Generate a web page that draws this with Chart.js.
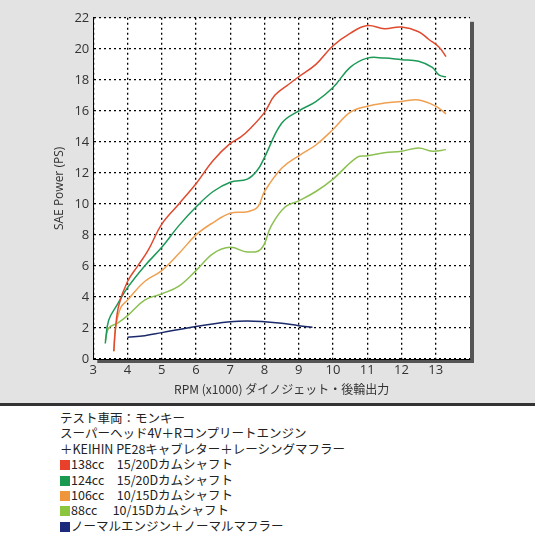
<!DOCTYPE html>
<html><head><meta charset="utf-8">
<script src="https://cdn.jsdelivr.net/npm/chart.js@4/dist/chart.umd.min.js"></script>
<style>
body{margin:0;width:535px;height:535px;overflow:hidden;background:#fff;font-family:"Open Sans","Noto Sans CJK JP",sans-serif}
#top{position:relative;width:535px;height:403px;background:#e3e3e3;border-bottom:3px solid #333}
#wrap{position:absolute;left:48px;top:6px;width:437px;height:391px}
#leg{padding:4px 0 0 60px;font-size:12.5px;line-height:15.4px;color:#222;font-family:"Noto Sans CJK JP",sans-serif}
.sw{display:inline-block;width:10px;height:10px;margin-right:1px;vertical-align:-1px}
</style></head><body>
<div id="top"><div id="wrap"><canvas id="c"></canvas></div></div>
<div id="leg">
<div>テスト車両：モンキー</div>
<div>スーパーヘッド4V＋Rコンプリートエンジン</div>
<div>＋KEIHIN PE28キャブレター＋レーシングマフラー</div>
<div><span class="sw" style="background:#e8402a"></span>138cc　15/20Dカムシャフト</div>
<div><span class="sw" style="background:#1a9a50"></span>124cc　15/20Dカムシャフト</div>
<div><span class="sw" style="background:#f0963a"></span>106cc　10/15Dカムシャフト</div>
<div><span class="sw" style="background:#8cc63f"></span>88cc　 10/15Dカムシャフト</div>
<div><span class="sw" style="background:#1b2a7a"></span>ノーマルエンジン＋ノーマルマフラー</div>
</div>
<script>
const red138=[[3.6,0.5],[3.65,2],[3.75,3.5],[4,5],[4.3,6],[4.6,7],[5,8.7],[5.5,10],[6,11.3],[6.5,12.8],[7,13.9],[7.3,14.3],[7.6,14.9],[8,15.9],[8.3,17],[8.7,17.7],[9,18.2],[9.5,19],[10,20.2],[10.5,21],[11,21.5],[11.5,21.3],[12,21.4],[12.5,21.1],[12.8,20.6],[13.1,20.1],[13.3,19.5]];
const green124=[[3.35,1],[3.45,2.5],[3.7,3.5],[4,4.6],[4.5,6],[5,7.2],[5.5,8.6],[6,9.8],[6.5,10.8],[7,11.4],[7.5,11.6],[7.8,12.2],[8,13],[8.5,15.2],[9,16],[9.5,16.6],[10,17.5],[10.5,18.8],[11,19.4],[11.5,19.4],[12,19.3],[12.5,19.2],[12.9,18.8],[13.1,18.3],[13.3,18.2]];
const orange106=[[3.6,0.5],[3.65,2],[3.8,3.3],[4,3.8],[4.5,5],[5,5.7],[5.5,6.8],[6,8],[6.5,8.8],[7,9.4],[7.5,9.5],[7.8,9.8],[8,10.8],[8.5,12.3],[9,13.1],[9.5,13.8],[10,14.8],[10.5,15.9],[11,16.3],[11.5,16.5],[12,16.6],[12.5,16.7],[13,16.3],[13.3,15.8]];
const lime88=[[3.35,1.2],[3.45,2],[3.7,2.3],[4,2.8],[4.5,3.8],[5,4.2],[5.5,4.7],[6,5.7],[6.5,6.8],[7,7.2],[7.5,6.9],[7.9,7.1],[8.2,8.6],[8.6,9.8],[9,10.2],[9.5,10.8],[10,11.6],[10.7,13],[11,13.1],[11.5,13.3],[12,13.4],[12.5,13.6],[12.9,13.4],[13.3,13.5]];
const normal=[[4,1.4],[4.5,1.5],[5,1.7],[6,2.1],[7,2.4],[7.5,2.45],[8,2.4],[8.5,2.3],[9,2.15],[9.4,2.05]];
const xTicks=[3,4,5,6,7,8,9,10,11,12,13];
const yTicks=[0,2,4,6,8,10,12,14,16,18,20,22];
const names=['138cc','124cc','106cc','88cc','ノーマル'];
const colors=['#e04a2e','#1e9a58','#f0a050','#8cc050','#1b2a6a'];
const series=[red138,green124,orange106,lime88,normal];
const bg={id:'bg',beforeDraw(ch){const a=ch.chartArea,c=ch.ctx;c.save();
c.fillStyle='#555';c.fillRect(a.left+4,a.top+4,a.right-a.left,a.bottom-a.top);c.fillStyle='#fff';c.fillRect(a.left,a.top,a.right-a.left,a.bottom-a.top);
c.restore();}};
const gridOpt={color:'#000',lineWidth:1.3,drawTicks:false};
new Chart(document.getElementById('c'),{type:'line',
data:{datasets:series.map((s,i)=>({label:names[i],data:s.map(p=>({x:p[0],y:p[1]})),borderColor:colors[i],borderWidth:1.5,pointRadius:0,tension:0.4,fill:false}))},
options:{responsive:true,maintainAspectRatio:false,animation:false,
layout:{padding:{right:15,top:4}},
plugins:{legend:{display:false},tooltip:{enabled:false}},
scales:{x:{type:'linear',min:3,max:14,afterBuildTicks(a){a.ticks=xTicks.map(v=>({value:v}));},
grid:gridOpt,border:{display:true,color:'#000',dash:[2,3]},
ticks:{color:'#333',font:{size:13,family:'Open Sans'},padding:3},
title:{display:true,text:'RPM (x1000) ダイノジェット・後輪出力',color:'#333',font:{size:12,family:'Noto Sans CJK JP'},padding:{top:2,bottom:0}}},
y:{min:0,max:22,afterBuildTicks(a){a.ticks=yTicks.map(v=>({value:v}));},ticks:{color:'#333',font:{size:13,family:'Open Sans'},padding:4},
grid:gridOpt,border:{display:true,color:'#000',dash:[2,3]},
title:{display:true,text:'SAE Power (PS)',color:'#333',font:{size:12,family:'Open Sans'}}}}},
plugins:[bg]});
</script></body></html>
